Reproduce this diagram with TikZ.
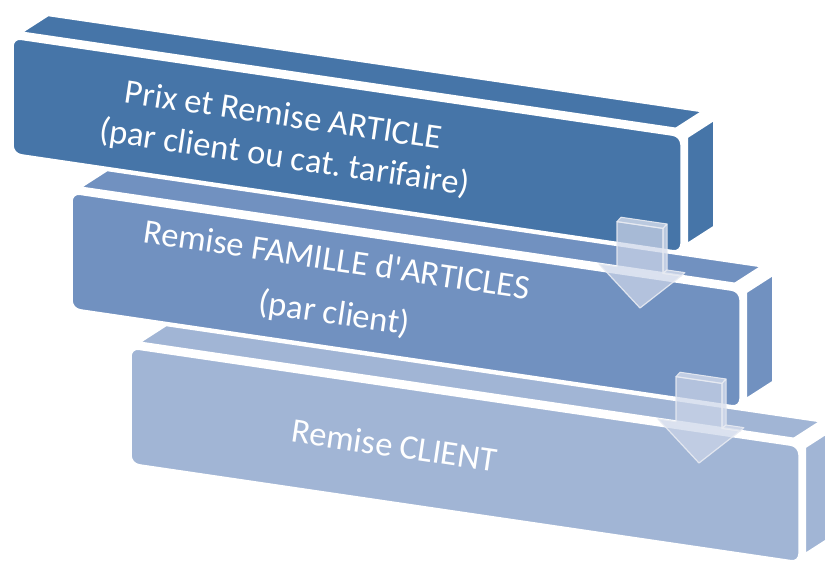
\documentclass[tikz,border=0pt]{standalone}
\usepackage{fontspec}
\setmainfont{Carlito}
\frenchspacing
\definecolor{boxA}{RGB}{70,117,168}
\definecolor{boxB}{RGB}{113,145,192}
\definecolor{boxC}{RGB}{161,181,213}
\definecolor{arrfill}{RGB}{205,214,233}
\definecolor{arredge}{RGB}{232,235,242}
\begin{document}
\begin{tikzpicture}[x=1pt,y=-1pt,
  face/.style={fill=#1, draw=white, line width=3pt, line join=round},
  frontface/.style={fill=#1, draw=white, line width=3.5pt, rounded corners=9pt},
  lbl/.style={text=white, font=\fontsize{34.5}{41}\selectfont\frenchspacing, rotate=-8.4, anchor=base, inner sep=0pt},
  arrowbody/.style={fill=arrfill, fill opacity=0.72, draw=arredge, draw opacity=0.9, line width=1.2pt, line join=round},
  arrowside/.style={fill=arrfill!80!white, fill opacity=0.8, draw=arredge, draw opacity=0.9, line width=1pt, line join=round},
  pics/cuboid/.style={code={
    \path[face=#1] (20,32.7) -- (676,129.1) -- (704,111.1) -- (48,14.7) -- cycle;
    \path[face=#1] (686.5,137) -- (714.5,119) -- (714.5,227) -- (686.5,245) -- cycle;
    \path[frontface=#1] (12,37) -- (682,135.5) -- (682,253) -- (12,154.5) -- cycle;
  }},
  pics/downarrow/.style={code={
    \begin{scope}[cm={1,-0.147,0,1,(0,0)}]
      \path[arrowbody] (-23,225) -- (23,225) -- (23,270) -- (41,270) -- (0,308) -- (-41,270) -- (-23,270) -- cycle;
      \path[arrowside] (-23,225) -- (-19,220) -- (27,220) -- (23,225) -- cycle;
      \path[arrowside] (23,225) -- (27,220) -- (27,266) -- (23,270) -- cycle;
      \path[arrowside] (23,270) -- (27,266) -- (45,266) -- (41,270) -- cycle;
    \end{scope}
  }}]
\useasboundingbox (0,0) rectangle (825,560);
\clip (0,0) rectangle (825,560);

\pic (b3) at (118,310) {cuboid=boxC};
\pic (b2) at (59,155) {cuboid=boxB};
\pic (b1) at (0,0) {cuboid=boxA};

\node[lbl] (t1a) at (282,126) {Prix et Remise ARTICLE};
\node[lbl] (t1b) at (283,168) {(par client ou cat. tarifaire)};
\node[lbl] (t2a) at (335,271) {Remise FAMILLE d\textquotesingle ARTICLES};
\node[lbl] (t2b) at (333,324) {(par client)};
\node[lbl] (t3a) at (393,457) {Remise CLIENT};

\pic (a1) at (640,0) {downarrow};
\pic (a2) at (699,155) {downarrow};
\end{tikzpicture}
\end{document}
